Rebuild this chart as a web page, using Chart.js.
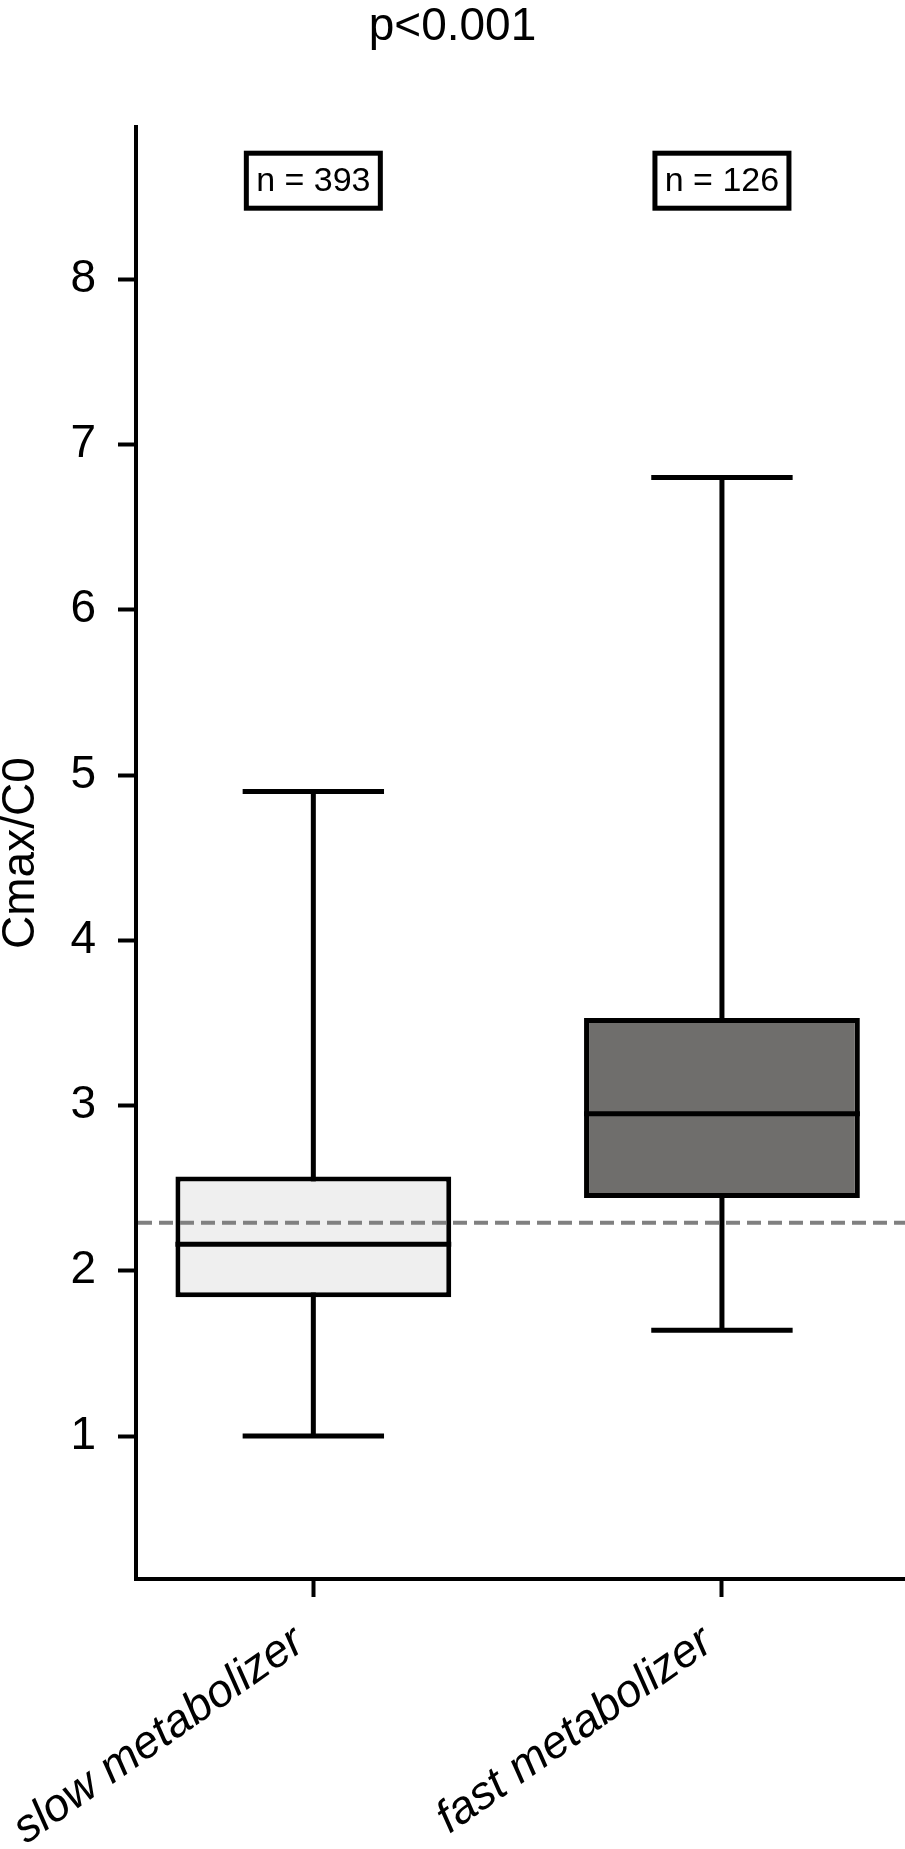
<!DOCTYPE html>
<html>
<head>
<meta charset="utf-8">
<title>Cmax/C0 by metabolizer type</title>
<script src="https://cdn.jsdelivr.net/npm/chart.js@4.4.1/dist/chart.umd.min.js"></script>
<style>
  html, body { margin: 0; padding: 0; background: #fff; }
  #wrap { width: 905px; height: 1849px; }
</style>
</head>
<body>
<div id="wrap"><canvas id="boxChart" width="905" height="1849"></canvas></div>
<script>
// values
const groups = ['slow metabolizer', 'fast metabolizer'];
const sampleSizes = [393, 126];
const whiskerLow = [1.0, 1.64];
const quartile1 = [1.84, 2.44];
const medians = [2.16, 2.95];
const quartile3 = [2.57, 3.53];
const whiskerHigh = [4.9, 6.8];
const referenceLine = 2.29;
const yTicks = [1, 2, 3, 4, 5, 6, 7, 8];
const pValueText = 'p<0.001';
const boxColors = ['#efefef', '#6f6e6c'];

const FONT = "'Liberation Sans', Arial, Helvetica, sans-serif";

// whiskers, caps, medians, reference line and the n = ... labels
const boxPlotExtras = {
    id: 'boxPlotExtras',
    beforeDatasetsDraw(chart, args, opts) {
        const { ctx, scales: { x, y } } = chart;
        ctx.save();
        ctx.strokeStyle = '#000';
        ctx.lineWidth = opts.lineWidth;
        groups.forEach((g, i) => {
            const cx = x.getPixelForValue(i);
            ctx.beginPath();
            ctx.moveTo(cx, y.getPixelForValue(whiskerLow[i]));
            ctx.lineTo(cx, y.getPixelForValue(whiskerHigh[i]));
            [whiskerLow[i], whiskerHigh[i]].forEach(v => {
                const py = y.getPixelForValue(v);
                ctx.moveTo(x.getPixelForValue(i - opts.capHalf), py);
                ctx.lineTo(x.getPixelForValue(i + opts.capHalf), py);
            });
            ctx.stroke();
        });
        ctx.restore();
    },
    afterDatasetsDraw(chart, args, opts) {
        const { ctx, chartArea, scales: { x, y } } = chart;
        ctx.save();

        // dashed reference line
        const ry = y.getPixelForValue(referenceLine);
        ctx.strokeStyle = '#808080';
        ctx.lineWidth = 4;
        ctx.setLineDash([14, 7]);
        ctx.beginPath();
        ctx.moveTo(chartArea.left + 2, ry);
        ctx.lineTo(chartArea.right, ry);
        ctx.stroke();
        ctx.setLineDash([]);

        // medians across the boxes
        const meta = chart.getDatasetMeta(0);
        ctx.strokeStyle = '#000';
        ctx.lineWidth = 5;
        meta.data.forEach((bar, i) => {
            const { x: bx, width } = bar.getProps(['x', 'width'], true);
            const my = y.getPixelForValue(medians[i]);
            ctx.beginPath();
            ctx.moveTo(bx - width / 2, my);
            ctx.lineTo(bx + width / 2, my);
            ctx.stroke();
        });

        // sample size boxes
        ctx.font = '34px ' + FONT;
        ctx.fillStyle = '#000';
        ctx.textAlign = 'center';
        ctx.textBaseline = 'middle';
        sampleSizes.forEach((n, i) => {
            const cx = x.getPixelForValue(i);
            const top = chartArea.top + opts.nBoxTop;
            ctx.strokeRect(cx - opts.nBoxW / 2, top, opts.nBoxW, opts.nBoxH);
            ctx.fillText('n = ' + n, cx, top + opts.nBoxH / 2 + 1);
        });
        ctx.restore();
    }
};

const axisGrid = {
    offset: false,
    drawOnChartArea: false,
    drawTicks: true,
    tickLength: 18,
    tickWidth: 4,
    tickColor: '#000'
};
const axisBorder = { display: true, color: '#000', width: 4 };

new Chart(document.getElementById('boxChart'), {
    type: 'bar',
    data: {
        datasets: [{
            data: groups.map((g, i) => ({ x: i, y: [quartile1[i], quartile3[i]] })),
            backgroundColor: boxColors,
            borderColor: '#000',
            borderWidth: 5,
            borderSkipped: false,
            categoryPercentage: 1,
            barPercentage: 0.675
        }]
    },
    options: {
        responsive: false,
        animation: false,
        layout: { padding: 0 },
        plugins: {
            legend: { display: false },
            tooltip: { enabled: false },
            title: {
                display: true,
                text: pValueText,
                color: '#000',
                font: { family: FONT, size: 46, weight: 'normal' },
                padding: { top: 0, bottom: 72 }
            },
            boxPlotExtras: { lineWidth: 5, capHalf: 0.173, nBoxTop: 26, nBoxW: 134, nBoxH: 55 }
        },
        scales: {
            x: {
                type: 'linear',
                offset: false,
                min: -0.434,
                max: 1.448,
                afterBuildTicks: axis => { axis.ticks = groups.map((g, i) => ({ value: i })); },
                afterFit: axis => {
                    axis.height = 270;
                    axis.paddingLeft = 0;
                    axis.paddingRight = 0;
                },
                grid: axisGrid,
                border: axisBorder,
                ticks: {
                    autoSkip: false,
                    minRotation: 35,
                    maxRotation: 35,
                    padding: 18,
                    labelOffset: -14,
                    color: '#000',
                    font: { family: FONT, size: 46, style: 'italic' },
                    callback: v => groups[v]
                }
            },
            y: {
                min: 0.135,
                max: 8.92,
                afterBuildTicks: axis => { axis.ticks = yTicks.map(v => ({ value: v })); },
                afterFit: axis => { axis.width = 136; },
                grid: axisGrid,
                border: axisBorder,
                ticks: {
                    padding: 22,
                    color: '#000',
                    font: { family: FONT, size: 46 }
                },
                title: {
                    display: true,
                    text: 'Cmax/C0',
                    color: '#000',
                    font: { family: FONT, size: 46, lineHeight: 0.9 },
                    padding: { top: 1, bottom: 0 }
                }
            }
        }
    },
    plugins: [boxPlotExtras]
});
</script>
</body>
</html>
